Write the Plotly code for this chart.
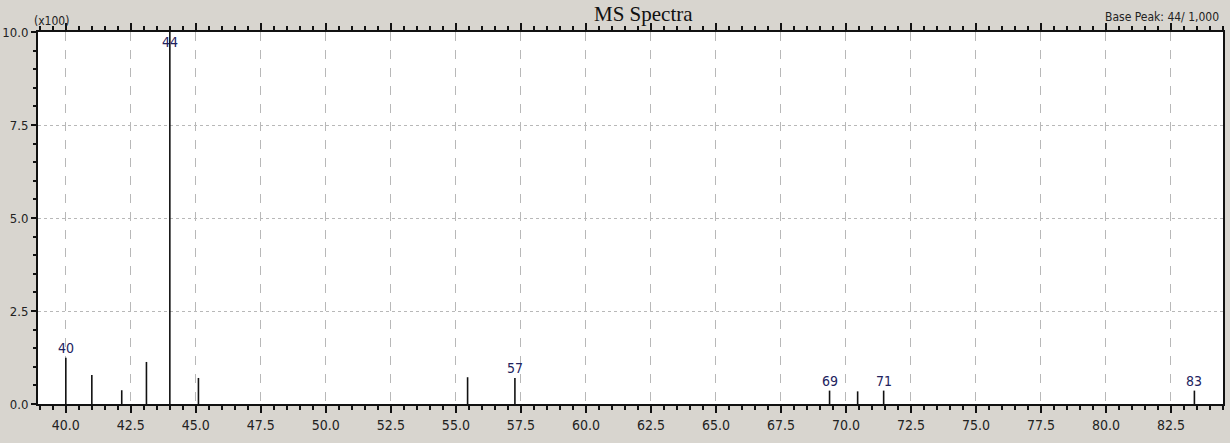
import plotly.graph_objects as go

# m/z positions, intensity in units of x100
mz = [40.0, 41.0, 42.15, 43.1, 44.0, 45.1, 55.45, 57.27, 69.37, 70.45, 71.45, 83.4]
intensity = [1.24, 0.78, 0.37, 1.13, 10.0, 0.70, 0.72, 0.70, 0.36, 0.34, 0.36, 0.36]
peak_labels = ["40", "", "", "", "44", "", "", "57", "69", "", "71", "83"]

x_ticks = [40.0, 42.5, 45.0, 47.5, 50.0, 52.5, 55.0, 57.5, 60.0, 62.5, 65.0, 67.5,
           70.0, 72.5, 75.0, 77.5, 80.0, 82.5]
y_ticks = [0.0, 2.5, 5.0, 7.5, 10.0]

X_RANGE = [38.93, 84.5]
Y_RANGE = [0, 10.0]

xs, ys = [], []
for m, h in zip(mz, intensity):
    xs += [m, m, None]
    ys += [0, h, None]

fig = go.Figure()
fig.add_trace(go.Scatter(x=xs, y=ys, mode="lines",
                         line=dict(color="#111111", width=1.6),
                         hoverinfo="skip", showlegend=False))

narrow = "DejaVu Sans Condensed"

for m, h, lab in zip(mz, intensity, peak_labels):
    if not lab:
        continue
    if h >= Y_RANGE[1] * 0.95:
        fig.add_annotation(x=m, y=Y_RANGE[1], text=lab, showarrow=False,
                           yanchor="top", yshift=0,
                           font=dict(family=narrow, size=14, color="#22225e"))
    else:
        fig.add_annotation(x=m, y=h, text=lab, showarrow=False,
                           yanchor="bottom", yshift=0,
                           font=dict(family=narrow, size=14, color="#22225e"))

fig.add_annotation(xref="paper", yref="paper", x=0.511, y=1.0, yshift=18,
                   text="MS Spectra", showarrow=False, yanchor="middle",
                   font=dict(family="Liberation Serif, Times New Roman, serif", size=21, color="#111111"))
fig.add_annotation(xref="paper", yref="paper", x=0.0, y=1.0, xshift=-6, yshift=2,
                   text="(x100)", showarrow=False, xanchor="left", yanchor="bottom",
                   font=dict(family=narrow, size=12, color="#222222"))
fig.add_annotation(xref="paper", yref="paper", x=1.0, y=1.0, xshift=-2, yshift=6,
                   text="Base Peak: 44/ 1,000", showarrow=False, xanchor="right", yanchor="bottom",
                   font=dict(family=narrow, size=12, color="#222222"))

fig.update_xaxes(range=X_RANGE, tickvals=x_ticks, ticktext=[f"{v:.1f}" for v in x_ticks],
                 ticks="outside", ticklen=7, tickwidth=2, tickcolor="#111111",
                 showline=True, linewidth=2, linecolor="#111111", mirror="allticks",
                 showgrid=True, gridcolor="#b8b8b8", griddash="dash", gridwidth=1,
                 minor=dict(dtick=0.5, tick0=40, ticks="outside", ticklen=4, tickwidth=2,
                            tickcolor="#111111", showgrid=False),
                 tickfont=dict(family=narrow, size=14, color="#222222"),
                 zeroline=False, fixedrange=True, automargin=False)
fig.update_yaxes(range=Y_RANGE, tickvals=y_ticks, ticktext=[f"{v:.1f}" for v in y_ticks],
                 ticks="outside", ticklen=5, tickwidth=2, tickcolor="#111111",
                 showline=True, linewidth=2, linecolor="#111111", mirror=True,
                 showgrid=True, gridcolor="#b8b8b8", griddash="dot", gridwidth=1,
                 minor=dict(dtick=0.5, tick0=0, ticks="outside", ticklen=3, tickwidth=2,
                            tickcolor="#111111", showgrid=False),
                 tickfont=dict(family=narrow, size=13, color="#222222"),
                 ticklabelstandoff=0,
                 zeroline=False, fixedrange=True, automargin=False)

fig.update_layout(width=1230, height=443,
                  margin=dict(l=38, r=7, t=32, b=39),
                  paper_bgcolor="#d8d5cf", plot_bgcolor="#ffffff",
                  showlegend=False)

fig.write_html("out.html", config={"displayModeBar": False},
               post_script="document.body.style.margin='0';document.body.style.background='#d8d5cf';")
